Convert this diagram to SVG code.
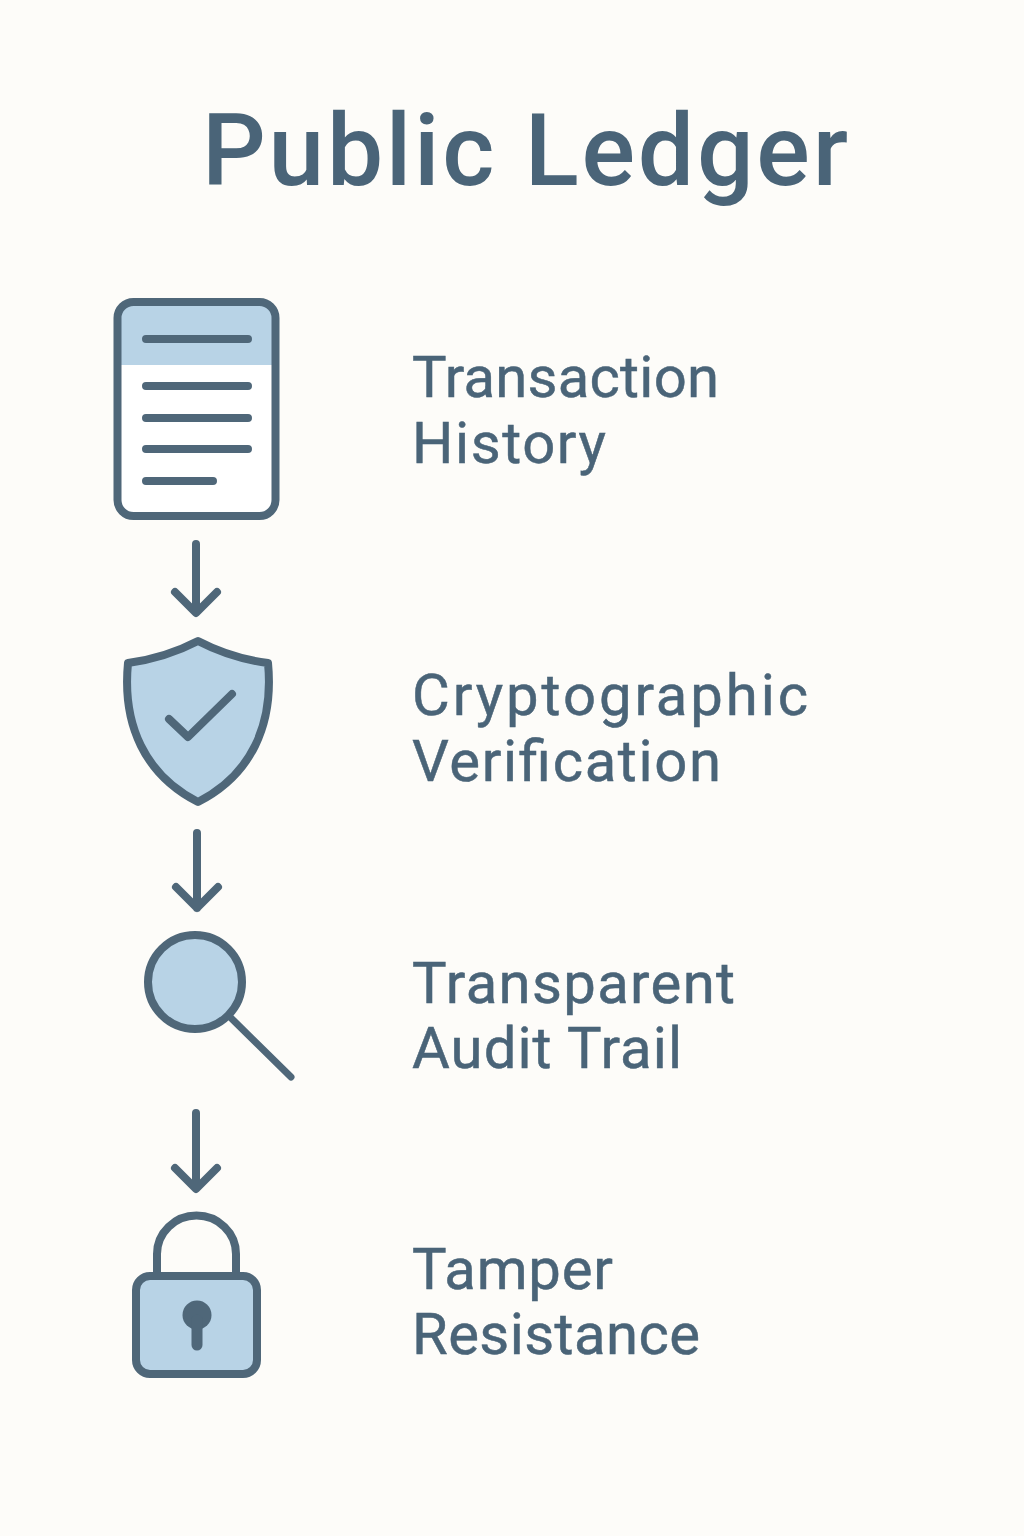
<svg xmlns="http://www.w3.org/2000/svg" width="1024" height="1536" viewBox="0 0 1024 1536">
<style>
.t{font-family:Roboto,"Noto Sans",sans-serif;fill:#4a6478;font-size:58px;stroke:#4a6478;stroke-width:.5px}
.title{font-family:Roboto,"Noto Sans",sans-serif;fill:#4a6478;font-size:100px;font-weight:500}
.s{fill:none;stroke:#4f6779;stroke-width:8;stroke-linecap:round;stroke-linejoin:round}
.f{fill:#b8d3e6}
</style>
<rect width="1024" height="1536" fill="#fdfcf9"/>
<text id="title" class="title" x="525" y="185" text-anchor="middle" textLength="646" lengthAdjust="spacing">Public Ledger</text>
<g id="node-history">
<rect x="117" y="302" width="159" height="214" rx="16" fill="#ffffff"/>
<path class="f" d="M117 365V318q0-16 16-16H260q16 0 16 16V365Z"/>
<rect class="s" x="117.500" y="302" width="158" height="214" rx="16"/>
<path class="s" d="M146 339H248M146 386H248M146 418H248M146 449H248M146 481H213"/>
<text class="t" x="412" y="397" textLength="307">Transaction</text><text class="t" x="412" y="463" textLength="194">History</text>
</g>
<g id="node-verify">
<path class="s" style="fill:#b8d3e6" d="M198 641C175 653 150 660 128 663C122 725 145 775 198 802C251 775 274 725 268 663C245 660 221 653 198 641Z"/>
<path class="s" d="M169 719L188 737L232 694"/>
<text class="t" x="412" y="715" textLength="396">Cryptographic</text><text class="t" x="412" y="781" textLength="309">Verification</text>
</g>
<g id="node-audit">
<circle class="s" style="fill:#b8d3e6" cx="195" cy="982" r="47"/>
<path class="s" d="M230 1017L291 1077" style="stroke-width:7"/>
<text class="t" x="412" y="1003" textLength="323">Transparent</text><text class="t" x="412" y="1068" textLength="270">Audit Trail</text>
</g>
<g id="node-lock">
<path class="s" d="M157 1276V1254a39 38 0 0 1 79 0V1276"/>
<rect class="s" style="fill:#b8d3e6" x="136" y="1276" width="121" height="98" rx="14"/>
<circle cx="197" cy="1315" r="14.500" fill="#4f6779"/>
<path d="M197 1320V1345" stroke="#4f6779" stroke-width="11" stroke-linecap="round" fill="none"/>
<text class="t" x="412" y="1289" textLength="201">Tamper</text><text class="t" x="412" y="1354" textLength="288">Resistance</text>
</g>
<g id="connectors">
<path class="s" d="M196 544V612M175 592L196 613L217 592"/>
<path class="s" d="M197 833V908M176 887L197 908L218 887"/>
<path class="s" d="M196 1113V1188M175 1168L196 1189L217 1168"/>
</g>
</svg>
